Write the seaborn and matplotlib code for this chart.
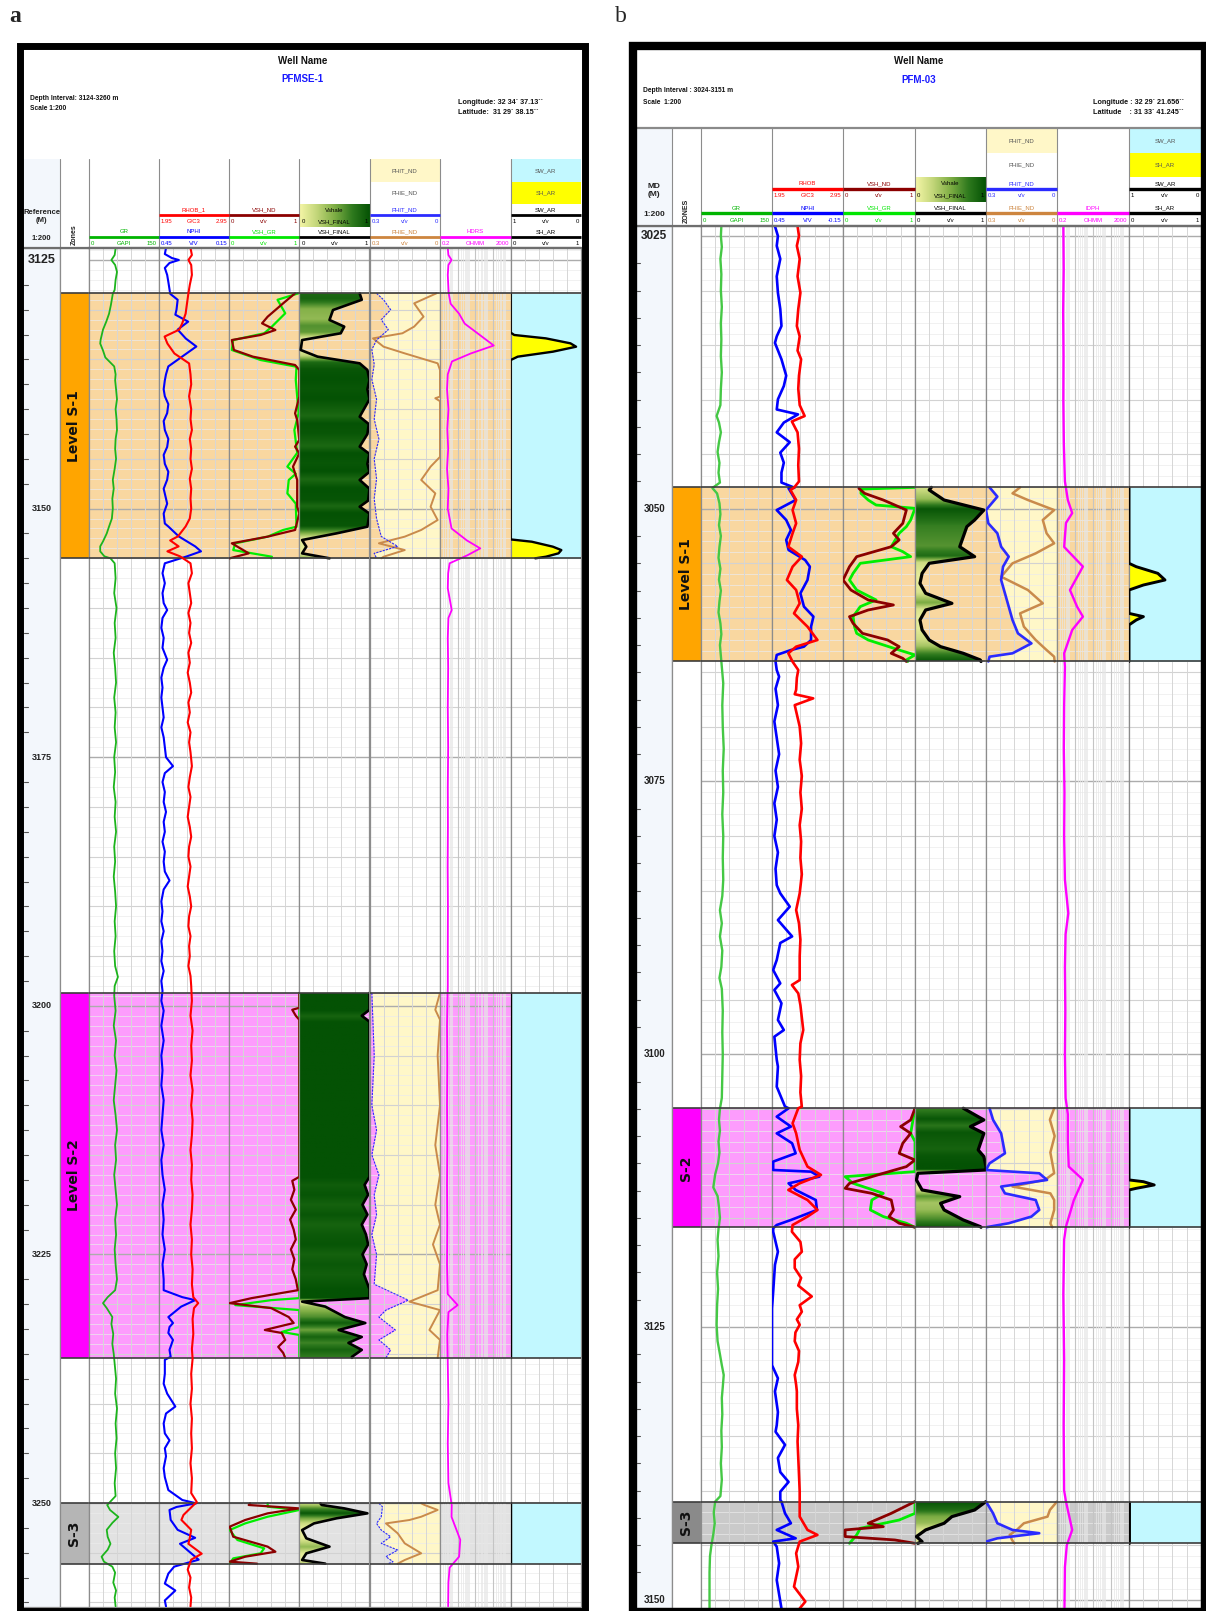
import numpy as np
import matplotlib.pyplot as plt
import seaborn as sns
from matplotlib.colors import LinearSegmentedColormap
from matplotlib.patches import Rectangle

W, H = 1206, 1611

# ---------------- well a : PFMSE-1 ----------------
A_ZONES = ["Level S-1", "Level S-2", "S-3"]
A_ZONE_TOP = [3128.35, 3198.7, 3250.03]
A_ZONE_BASE = [3155.0, 3235.4, 3256.1]

A_GR = [(3123.8,57),(3124.5,55),(3125.0,48),(3125.5,56),(3126.2,60),(3127.0,57),(3128.0,55),(3128.4,51),(3129.5,47),(3130.4,43),
        (3131.2,37),(3132.0,30),(3133.0,25),(3133.4,24),(3134.1,30),(3134.8,35),(3135.7,54),(3136.5,57),(3137.1,56),(3138.0,58),
        (3139.0,60),(3140.0,57),(3141.0,59),(3142.1,60),(3143.0,57),(3144.0,56),(3145.0,58),(3146.0,55),(3147.1,51),(3148.0,53),
        (3149.0,50),(3150.0,51),(3151.0,49),(3151.8,43),(3152.5,38),(3153.3,30),(3153.8,24),(3154.3,24),(3154.8,33),(3155.0,46),
        (3155.5,55),(3157.0,57),(3158.5,54),(3160.0,59),(3161.5,55),(3163.0,57),(3164.5,53),(3166.0,56),(3167.5,58),(3169.0,54),
        (3170.5,57),(3172.0,55),(3173.5,58),(3175.0,54),(3176.5,56),(3178.0,53),(3179.5,57),(3181.0,55),(3182.5,58),(3184.0,54),
        (3185.5,56),(3187.0,53),(3188.5,56),(3190.0,58),(3191.5,55),(3193.0,57),(3194.5,54),(3196.0,56),(3197.1,62),(3198.0,55),
        (3199.0,54),(3200.5,57),(3202.0,53),(3203.5,58),(3205.0,55),(3206.5,59),(3208.0,56),(3209.5,53),(3211.0,57),(3212.5,60),
        (3214.0,56),(3215.5,58),(3217.0,54),(3218.5,57),(3220.0,60),(3221.5,56),(3223.0,58),(3224.5,55),(3226.0,57),(3227.5,60),
        (3228.6,56),(3229.3,40),(3229.9,30),(3230.4,38),(3231.3,50),(3232.0,48),(3233.0,52),(3234.0,50),(3235.0,53),(3236.0,55),
        (3237.5,58),(3239.0,56),(3240.5,60),(3242.0,57),(3243.5,59),(3245.0,56),(3246.5,58),(3248.0,55),(3249.3,57),(3250.2,39),
        (3250.7,45),(3251.4,63),(3252.0,50),(3252.7,38),(3253.4,40),(3254.1,46),(3254.7,40),(3255.4,27),(3255.9,32),(3256.4,50),
        (3257.0,56),(3258.0,52),(3258.8,58),(3259.5,55),(3260.4,57)]

A_NPHI = [(3123.8,.39),(3124.4,.40),(3124.8,.34),(3125.0,.28),(3125.3,.36),(3125.8,.40),(3126.5,.38),(3127.2,.37),(3128.4,.354),
          (3129.0,.29),(3130.0,.30),(3130.5,.31),(3131.2,.20),(3132.0,.29),(3132.9,.22),(3133.7,.13),(3134.7,.25),(3135.7,.37),
          (3136.5,.39),(3137.1,.40),(3138.0,.41),(3138.7,.40),(3139.5,.37),(3140.4,.38),(3141.2,.41),(3142.1,.40),(3143.0,.37),
          (3143.8,.38),(3144.6,.41),(3145.5,.40),(3146.3,.37),(3147.1,.38),(3148.0,.41),(3148.5,.40),(3149.5,.38),(3150.5,.41),
          (3151.5,.40),(3151.8,.37),(3152.8,.28),(3153.8,.14),(3154.3,.09),(3154.8,.21),(3155.5,.40),(3156.5,.42),(3157.5,.40),
          (3158.5,.42),(3159.5,.41),(3160.2,.38),(3161.0,.42),(3162.0,.43),(3163.0,.41),(3164.0,.42),(3165.2,.38),(3166.0,.41),
          (3167.0,.43),(3168.0,.42),(3169.0,.43),(3170.0,.42),(3171.0,.41),(3172.0,.43),(3173.0,.41),(3174.0,.40),(3175.0,.39),
          (3175.9,.33),(3176.6,.40),(3177.5,.42),(3178.5,.40),(3179.5,.41),(3180.5,.39),(3181.5,.41),(3182.5,.40),(3183.5,.42),
          (3184.5,.40),(3185.5,.41),(3186.5,.40),(3187.4,.36),(3188.3,.41),(3189.5,.43),(3190.5,.42),(3191.5,.43),(3192.5,.41),
          (3193.5,.43),(3194.5,.42),(3195.5,.43),(3196.5,.41),(3197.5,.43),(3198.5,.42),(3199.5,.43),(3200.5,.41),(3202.0,.43),
          (3203.5,.41),(3205.0,.43),(3206.5,.42),(3208.0,.43),(3209.5,.41),(3211.0,.42),(3212.5,.43),(3214.0,.41),(3215.5,.43),
          (3217.0,.42),(3218.5,.40),(3220.0,.42),(3221.5,.41),(3223.0,.42),(3224.5,.40),(3226.0,.42),(3227.5,.41),(3228.6,.41),
          (3229.3,.25),(3229.6,.14),(3230.25,.26),(3231.3,.37),(3231.9,.33),(3232.3,.36),(3232.9,.37),(3233.6,.33),(3234.6,.36),
          (3235.3,.35),(3235.6,.40),(3237.0,.40),(3238.0,.41),(3239.0,.38),(3240.3,.31),(3241.0,.39),(3242.0,.41),(3243.0,.40),
          (3243.7,.36),(3244.5,.40),(3245.3,.39),(3246.5,.41),(3247.4,.40),(3248.7,.37),(3249.7,.25),(3250.03,.13),(3250.4,.30),
          (3250.7,.36),(3251.7,.35),(3252.7,.29),(3253.5,.14),(3254.1,.27),(3255.1,.17),(3255.7,.11),(3256.4,.32),(3257.1,.37),
          (3258.1,.40),(3258.8,.31),(3259.8,.40),(3260.4,.39)]

A_RHOB = [(3123.8,2.40),(3124.5,2.42),(3125.0,2.37),(3125.5,2.41),(3126.5,2.42),(3127.5,2.39),(3128.35,2.37),(3130.4,2.33),
          (3131.4,2.28),(3132.0,2.24),(3132.7,2.03),(3133.4,2.07),(3134.4,2.17),(3135.4,2.38),(3136.5,2.40),(3137.5,2.41),
          (3138.7,2.38),(3140.0,2.41),(3141.0,2.40),(3142.1,2.42),(3143.0,2.39),(3144.0,2.41),(3145.0,2.40),(3146.0,2.42),
          (3147.0,2.39),(3148.0,2.41),(3149.0,2.40),(3150.0,2.41),(3151.0,2.39),(3151.8,2.33),(3152.8,2.22),(3153.2,2.11),
          (3153.8,2.23),(3154.3,2.07),(3154.8,2.25),(3155.5,2.40),(3156.5,2.42),(3157.5,2.37),(3158.5,2.39),(3159.5,2.41),
          (3160.5,2.37),(3161.5,2.40),(3162.5,2.38),(3163.5,2.41),(3164.5,2.37),(3165.5,2.39),(3166.5,2.36),(3167.5,2.39),
          (3168.5,2.41),(3169.5,2.37),(3170.5,2.39),(3171.5,2.36),(3172.5,2.40),(3173.5,2.38),(3174.5,2.40),(3175.9,2.42),
          (3177.0,2.39),(3178.0,2.37),(3179.0,2.40),(3180.0,2.38),(3181.0,2.36),(3182.0,2.39),(3183.0,2.41),(3184.0,2.38),
          (3185.0,2.37),(3186.0,2.40),(3187.0,2.38),(3188.0,2.36),(3189.0,2.39),(3190.0,2.41),(3191.0,2.38),(3192.0,2.37),
          (3193.0,2.40),(3194.0,2.38),(3195.0,2.39),(3196.0,2.37),(3197.0,2.40),(3198.0,2.41),(3199.5,2.42),(3201.0,2.40),
          (3202.5,2.43),(3204.0,2.41),(3205.5,2.42),(3207.0,2.40),(3208.5,2.43),(3210.0,2.41),(3211.5,2.43),(3213.0,2.42),
          (3214.5,2.40),(3216.0,2.42),(3217.5,2.41),(3219.0,2.43),(3220.5,2.42),(3222.0,2.40),(3223.5,2.42),(3225.0,2.41),
          (3226.5,2.43),(3228.0,2.42),(3229.3,2.44),(3229.9,2.51),(3230.4,2.45),(3231.5,2.43),(3233.0,2.44),(3234.5,2.42),
          (3235.5,2.43),(3237.0,2.41),(3238.5,2.42),(3240.0,2.40),(3241.5,2.42),(3243.0,2.41),(3244.5,2.42),(3246.0,2.40),
          (3247.5,2.42),(3249.0,2.41),(3249.9,2.49),(3250.3,2.43),(3251.2,2.30),(3251.7,2.27),(3252.7,2.41),(3253.5,2.39),
          (3254.1,2.37),(3255.1,2.56),(3255.7,2.41),(3256.7,2.36),(3257.5,2.40),(3258.5,2.38),(3259.5,2.41),(3260.4,2.40)]

A_RES = [(3123.8,0.55),(3124.5,0.6),(3125.0,0.9),(3125.5,0.6),(3126.5,0.55),(3128.35,0.62),(3129.4,0.8),(3130.4,2.4),
         (3131.4,5.0),(3132.4,28),(3133.6,220),(3134.4,11),(3135.2,0.95),(3136.5,0.55),(3138.0,0.5),(3140.0,0.6),(3142.0,0.52),
         (3144.0,0.58),(3146.0,0.5),(3148.0,0.6),(3150.0,0.55),(3152.0,0.9),(3153.2,6.6),(3154.0,38),(3154.7,7.0),(3155.5,0.7),
         (3156.5,0.58),(3158.0,0.55),(3160.2,0.92),(3161.0,0.6),(3163.0,0.55),(3166.0,0.58),(3170.0,0.55),(3174.0,0.58),
         (3178.0,0.55),(3182.0,0.56),(3186.0,0.54),(3190.0,0.56),(3194.0,0.55),(3198.0,0.55),(3202.0,0.5),(3206.0,0.52),
         (3210.0,0.5),(3214.0,0.52),(3218.0,0.5),(3222.0,0.52),(3226.0,0.5),(3229.0,0.55),(3230.1,2.0),(3230.8,0.6),
         (3233.0,0.52),(3236.0,0.55),(3240.0,0.6),(3244.0,0.55),(3248.0,0.6),(3250.2,0.92),(3251.4,0.9),(3253.7,2.8),
         (3255.4,2.4),(3256.5,0.7),(3258.0,0.6),(3260.4,0.58)]

A_VSH_ND = [
    [(3128.35,.94),(3129.36,.77),(3130.7,.55),(3131.37,.47),(3132.04,.66),(3132.54,.45),(3133.05,.04),(3134.05,.07),(3134.72,.34),
     (3135.56,.94),(3136.06,1.0),(3138.74,1.0),(3140.42,.94),(3141.09,.97),(3143.1,1.0),(3143.77,.94),(3144.44,1.0),(3145.78,.91),
     (3147.12,.97),(3149.81,.97),(3150.48,1.0),(3152.15,.94),(3152.82,.55),(3153.49,.04),(3154.5,.28),(3155.0,.01)],
    [(3198.7,1.0),(3200.2,1.0),(3200.4,.9),(3201.0,.95),(3201.4,1.0),(3217.2,1.0),(3217.6,.9),(3218.5,.93),(3219.5,.88),
     (3220.5,.95),(3221.5,.87),(3222.5,.92),(3223.5,.95),(3224.5,.88),(3225.5,.93),(3226.5,.90),(3227.5,.95),(3228.6,.98),
     (3229.4,.32),(3229.9,.01),(3230.4,.6),(3231.3,.85),(3231.9,.92),(3232.6,.51),(3232.9,.75),(3233.6,.8),(3234.3,.7),
     (3234.9,.77),(3235.4,.8)],
    [(3250.03,.3),(3250.2,.28),(3250.54,1.0),(3251.04,.55),(3251.71,.23),(3252.38,.01),(3253.39,.06),(3254.39,.55),
     (3254.9,.66),(3255.4,.23),(3255.9,.01),(3256.1,.4)]]

A_VSH_GR = [
    [(3128.35,.99),(3129.0,.69),(3130.36,.80),(3131.7,.61),(3132.37,.50),(3133.05,.06),(3134.05,.04),(3135.06,.45),(3135.73,.96),
     (3137.07,.95),(3140.4,.99),(3142.1,.93),(3144.4,.97),(3145.78,.83),(3146.5,.95),(3147.12,.85),(3148.47,.83),(3149.5,.95),
     (3151.82,.96),(3152.15,.77),(3152.82,.55),(3153.49,.09),(3154.17,.06),(3154.84,.61),(3155.0,.6)],
    [(3198.7,1.0),(3229.4,1.0),(3229.6,.6),(3230.1,.09),(3230.6,1.0),(3232.3,1.0),(3232.8,.75),(3233.1,1.0),(3235.4,1.0)],
    [(3250.03,.55),(3250.37,.55),(3250.7,1.0),(3251.38,.55),(3252.05,.23),(3252.72,.01),(3253.72,.12),(3254.56,.5),
     (3255.06,.45),(3255.57,.06),(3256.1,.01)]]

A_VSH_FINAL = [
    [(3128.35,.86),(3129.0,.89),(3130.03,.48),(3131.03,.43),(3131.7,.64),(3132.37,.59),(3133.05,.04),(3134.05,.02),(3134.72,.26),
     (3135.39,.86),(3136.06,.97),(3137.07,1.0),(3138.0,.97),(3139.0,1.0),(3140.76,.86),(3141.5,.99),(3142.5,.97),(3143.77,.86),
     (3144.5,1.0),(3145.5,.97),(3146.3,1.0),(3147.12,.86),(3148.0,1.0),(3149.2,.98),(3149.81,.86),(3150.5,1.0),(3151.82,.97),
     (3152.49,.53),(3153.16,.04),(3153.83,.1),(3154.5,.04),(3155.0,.43)],
    [(3198.7,1.0),(3200.4,1.0),(3201.0,.89),(3201.6,1.0),(3217.2,1.0),(3218.0,.93),(3219.0,.98),(3220.0,.9),(3221.0,.97),
     (3222.0,.89),(3223.0,.95),(3224.0,.98),(3225.0,.9),(3226.0,.96),(3227.0,.92),(3228.5,1.0),(3229.4,1.0),(3229.75,.04),
     (3230.25,.37),(3231.3,.65),(3231.9,.94),(3232.6,.56),(3233.3,.89),(3233.9,.7),(3234.6,.89),(3235.3,.75),(3235.4,.75)],
    [(3250.03,.3),(3250.2,.32),(3250.54,.64),(3251.04,.97),(3251.54,.53),(3252.05,.21),(3252.72,.04),(3253.55,.1),
     (3254.39,.43),(3255.06,.1),(3255.73,.04),(3256.1,.37)]]

A_PHIT = [
    [(3128.35,.27),(3129.0,.24),(3130.0,.21),(3131.0,.25),(3132.0,.22),(3133.05,.27),(3134.0,.29),(3135.5,.28),(3137.0,.29),
     (3139.0,.27),(3141.0,.28),(3143.0,.26),(3145.0,.28),(3147.0,.27),(3149.0,.28),(3151.0,.27),(3152.8,.25),(3153.8,.18),
     (3154.5,.28),(3155.0,.27)],
    [(3198.7,.29),(3205.0,.28),(3210.0,.29),(3212.5,.27),(3215.0,.29),(3217.0,.26),(3219.0,.28),(3221.0,.27),(3223.0,.29),
     (3225.0,.27),(3228.0,.28),(3229.6,.135),(3230.6,.23),(3231.3,.26),(3232.6,.19),(3233.6,.26),(3234.6,.21),(3235.4,.23)],
    [(3250.03,.26),(3250.37,.245),(3251.38,.25),(3252.05,.27),(3252.72,.25),(3253.39,.21),(3254.06,.25),(3254.73,.18),
     (3255.4,.23),(3255.9,.2),(3256.1,.22)]]

A_PHIE = [
    [(3128.35,.015),(3129.36,.11),(3130.7,.07),(3131.7,.11),(3132.37,.16),(3132.88,.285),(3133.72,.24),(3134.39,.15),
     (3135.39,.01),(3136.06,0.0),(3138.74,0.0),(3138.9,.02),(3139.2,0.0),(3144.8,0.0),(3145.78,.04),(3147.12,.08),
     (3148.47,.02),(3149.81,.04),(3151.15,.01),(3152.15,.08),(3152.82,.15),(3153.49,.26),(3154.17,.15),(3154.84,.24),
     (3155.0,.25)],
    [(3198.7,0.0),(3200.4,.02),(3201.4,0.0),(3205.0,.01),(3210.0,0.0),(3214.0,.02),(3217.0,0.0),(3220.0,.02),(3222.0,0.0),
     (3224.0,.03),(3226.0,0.0),(3228.6,.01),(3229.75,.13),(3230.6,0.0),(3232.6,.045),(3233.6,0.0),(3235.4,.01)],
    [(3250.03,.08),(3250.2,.066),(3250.7,.01),(3251.38,.08),(3251.71,.13),(3252.05,.23),(3253.05,.18),(3254.06,.15),
     (3255.06,.08),(3255.73,.15),(3256.1,.18)]]

A_SH = [
    [(3128.35,0),(3132.3,0),(3132.54,.05),(3132.88,.5),(3133.38,.85),(3133.72,.93),(3134.22,.6),(3134.72,.1),(3135.06,0),
     (3153.1,0),(3153.33,.3),(3153.83,.6),(3154.17,.72),(3154.5,.68),(3154.84,.5),(3155.0,.35)],
    [(3198.7,0),(3235.4,0)],
    [(3250.03,0),(3256.1,0)]]

# ---------------- well b : PFM-03 ----------------
B_ZONES = ["Level S-1", "S-2", "S-3"]
B_ZONE_TOP = [3048.04, 3104.95, 3141.0]
B_ZONE_BASE = [3064.0, 3115.86, 3144.83]

B_GR = [(3024.1,43),(3025.0,42),(3026.0,44),(3027.1,41),(3028.5,43),(3030.0,42),(3031.5,44),(3033.0,42),(3034.5,43),(3036.0,42),
        (3037.5,44),(3039.0,42),(3040.5,41),(3041.5,33),(3042.1,38),(3043.0,42),(3043.9,38),(3044.8,35),(3045.8,39),(3046.7,37),
        (3047.6,40),(3048.1,24),(3048.6,34),(3049.5,39),(3050.5,41),(3051.5,38),(3052.5,42),(3053.5,39),(3054.5,37),(3055.5,41),
        (3056.5,38),(3057.5,42),(3058.5,39),(3059.5,37),(3060.5,41),(3061.5,43),(3062.5,40),(3063.5,42),(3064.5,44),(3066.0,47),
        (3068.0,45),(3070.0,46),(3072.0,48),(3074.0,46),(3076.0,47),(3078.0,45),(3080.0,47),(3082.0,46),(3084.0,47),(3085.5,45),
        (3086.8,40),(3088.0,44),(3089.2,40),(3090.5,45),(3092.0,43),(3093.0,39),(3094.0,44),(3096.0,46),(3098.0,45),(3100.0,46),
        (3102.0,45),(3104.0,44),(3105.0,40),(3106.0,38),(3107.0,40),(3108.0,37),(3109.0,39),(3110.0,36),(3111.0,30),(3112.2,26),
        (3113.0,35),(3114.0,38),(3115.0,40),(3116.0,37),(3117.0,35),(3118.5,37),(3120.0,34),(3121.5,36),(3123.0,34),(3124.8,33),
        (3126.3,35),(3127.5,40),(3128.5,44),(3129.4,48),(3130.5,46),(3131.5,44),(3133.0,45),(3134.5,43),(3136.0,44),(3137.5,42),
        (3139.0,44),(3140.5,41),(3141.0,30),(3142.0,27),(3143.0,29),(3144.0,26),(3145.0,22),(3146.0,19),(3147.5,18),(3149.0,18),
        (3150.8,18)]

B_NPHI = [(3024.1,.425),(3025.0,.40),(3025.9,.41),(3027.1,.38),(3028.7,.41),(3030.2,.40),(3031.7,.38),(3033.25,.37),(3034.2,.41),
          (3034.8,.425),(3036.3,.37),(3037.8,.33),(3038.75,.35),(3039.97,.40),(3040.9,.41),(3041.35,.23),(3042.1,.35),(3043.0,.41),
          (3043.9,.30),(3044.86,.38),(3045.78,.35),(3046.69,.37),(3047.6,.37),(3048.07,.26),(3048.13,.31),(3049.2,.25),
          (3050.12,.41),(3051.03,.33),(3051.95,.29),(3052.86,.33),(3053.78,.31),(3054.7,.17),(3055.31,.13),(3056.53,.15),
          (3057.75,.21),(3058.97,.18),(3059.89,.10),(3060.81,.12),(3062.03,.12),(3062.64,.18),(3062.95,.29),(3063.4,.41),
          (3064.0,.42),(3064.78,.41),(3065.39,.39),(3066.5,.42),(3068.0,.40),(3069.5,.43),(3071.0,.41),(3072.5,.39),(3074.0,.42),
          (3075.5,.40),(3077.0,.43),(3078.5,.41),(3080.0,.43),(3081.5,.40),(3083.0,.42),(3084.5,.41),(3085.25,.38),(3086.47,.30),
          (3087.7,.40),(3089.2,.28),(3089.8,.38),(3091.36,.41),(3092.28,.44),(3093.5,.38),(3094.11,.43),(3095.33,.37),
          (3096.86,.40),(3097.78,.35),(3098.39,.43),(3100.5,.41),(3101.14,.40),(3102.97,.41),(3104.8,.34),(3104.95,.31),
          (3105.72,.41),(3106.63,.29),(3107.25,.41),(3108.16,.28),(3109.08,.25),(3109.84,.44),(3110.61,.44),(3110.76,.12),
          (3111.22,.05),(3111.83,.31),(3112.44,.25),(3113.36,.08),(3114.27,.07),(3115.19,.29),(3115.65,.41),(3115.95,.44),
          (3116.26,.44),(3118.1,.40),(3119.3,.425),(3121.76,.44),(3123.3,.45),(3128.5,.45),(3129.7,.40),(3130.9,.425),
          (3132.8,.40),(3134.0,.41),(3134.6,.42),(3135.8,.34),(3137.0,.40),(3138.3,.38),(3139.2,.31),(3140.1,.38),(3140.85,.38),
          (3141.0,.37),(3142.08,.34),(3142.99,.29),(3143.6,.41),(3144.37,.25),(3144.67,.44),(3145.13,.41),(3146.66,.39),
          (3148.19,.41),(3149.5,.39),(3150.8,.37)]

B_RHOB = [(3024.1,2.31),(3025.0,2.33),(3025.9,2.30),(3027.1,2.34),(3028.7,2.31),(3030.2,2.35),(3031.7,2.32),(3033.25,2.30),
          (3034.2,2.34),(3035.5,2.31),(3036.3,2.36),(3037.8,2.33),(3039.0,2.32),(3040.5,2.34),(3041.5,2.41),(3042.0,2.23),
          (3043.0,2.31),(3044.5,2.33),(3046.0,2.32),(3047.5,2.33),(3048.07,2.26),(3048.28,2.21),(3049.2,2.29),(3050.12,2.24),
          (3051.34,2.29),(3052.25,2.24),(3053.48,2.18),(3054.39,2.37),(3055.31,2.24),(3056.53,2.16),(3057.45,2.29),(3058.67,2.34),
          (3059.59,2.26),(3060.81,2.45),(3062.03,2.59),(3062.64,2.29),(3063.25,2.18),(3064.02,2.24),(3064.78,2.32),(3065.5,2.30),
          (3066.6,2.29),(3067.0,2.27),(3067.38,2.53),(3068.0,2.27),(3069.97,2.34),(3071.5,2.36),(3073.0,2.34),(3074.5,2.37),
          (3076.0,2.35),(3077.5,2.37),(3079.0,2.34),(3080.5,2.36),(3082.0,2.35),(3083.5,2.37),(3085.25,2.34),(3086.78,2.29),
          (3088.0,2.33),(3089.5,2.35),(3091.0,2.34),(3093.2,2.34),(3093.65,2.23),(3094.42,2.32),(3095.5,2.35),(3097.78,2.39),
          (3099.0,2.35),(3100.5,2.34),(3102.0,2.36),(3103.5,2.35),(3104.8,2.37),(3104.95,2.32),(3106.33,2.24),(3107.25,2.29),
          (3108.77,2.34),(3110.3,2.45),(3111.06,2.64),(3111.83,2.34),(3112.44,2.18),(3113.36,2.45),(3114.27,2.59),(3114.88,2.45),
          (3115.65,2.24),(3116.26,2.23),(3117.2,2.35),(3118.1,2.37),(3118.8,2.27),(3119.6,2.27),(3120.5,2.36),(3121.2,2.32),
          (3122.2,2.51),(3123.0,2.34),(3123.6,2.37),(3124.3,2.30),(3124.8,2.34),(3125.5,2.28),(3126.3,2.27),(3127.2,2.33),
          (3128.2,2.32),(3129.4,2.27),(3130.3,2.29),(3130.9,2.30),(3132.5,2.30),(3134.0,2.32),(3135.5,2.31),(3137.0,2.32),
          (3138.5,2.33),(3140.1,2.34),(3140.85,2.34),(3142.38,2.34),(3143.6,2.45),(3144.06,2.59),(3144.67,2.34),(3145.74,2.29),
          (3146.96,2.32),(3148.8,2.26),(3150.17,2.42),(3150.8,2.34)]

B_RES = [(3024.1,.45),(3028.0,.47),(3032.0,.44),(3036.0,.46),(3040.0,.45),(3044.0,.48),(3047.5,.55),(3048.1,.63),(3049.2,.8),
         (3050.4,1.4),(3051.3,.63),(3053.5,.5),(3055.3,5.5),(3057.45,1.05),(3058.97,2.6),(3059.89,5.5),(3061.11,1.4),
         (3063.25,.5),(3064.5,.55),(3068.0,.5),(3072.0,.48),(3076.0,.52),(3080.0,.5),(3084.0,.55),(3087.08,.85),(3089.0,.6),
         (3092.0,.55),(3096.0,.58),(3100.0,.55),(3104.0,.6),(3105.5,.8),(3108.0,.8),(3110.3,.9),(3111.5,5.5),(3113.4,1.7),
         (3115.8,.63),(3117.0,.5),(3122.0,.45),(3128.0,.5),(3134.0,.47),(3140.0,.5),(3141.0,.63),(3143.6,1.4),(3145.0,.7),
         (3147.0,.55),(3150.8,.52)]

B_VSH_ND = [
    [(3048.13,.22),(3048.59,.3),(3049.2,.56),(3050.12,.88),(3051.34,.83),(3052.25,.7),(3052.86,.78),(3053.48,.67),(3054.39,.19),
     (3055.31,.09),(3056.53,.0),(3057.45,.11),(3058.36,.35),(3058.82,.7),(3059.28,.35),(3059.89,.09),(3060.5,.14),(3061.42,.27),
     (3062.03,.62),(3062.64,.78),(3063.25,.67),(3063.71,.83),(3064.0,.88)],
    [(3104.95,1.0),(3106.02,.94),(3106.63,.8),(3107.25,.94),(3108.16,.83),(3109.08,.78),(3109.69,1.0),(3110.3,.88),(3110.91,.56),
     (3111.83,.09),(3112.29,.03),(3112.75,.4),(3113.36,.67),(3114.27,.7),(3114.88,.64),(3115.49,.78),(3115.86,1.0)],
    [(3141.0,1.0),(3142.08,.67),(3142.99,.35),(3143.3,.56),(3143.6,.03),(3144.21,.03),(3144.52,.72),(3144.83,1.0)]]

B_VSH_GR = [
    [(3048.04,1.0),(3048.2,.25),(3048.59,.25),(3049.2,.35),(3049.66,.46),(3049.96,1.0),(3051.03,.94),(3051.64,.88),(3052.25,.78),
     (3053.48,.67),(3053.93,.83),(3054.39,.94),(3055.0,.24),(3055.92,.14),(3056.53,.09),(3057.45,.19),(3058.36,.46),
     (3058.97,.24),(3059.89,.14),(3060.81,.16),(3061.42,.19),(3062.03,.35),(3062.95,.78),(3063.4,1.0),(3063.86,.88),(3064.0,.9)],
    [(3104.95,1.0),(3107.25,.94),(3108.0,1.0),(3110.76,1.0),(3111.22,.03),(3111.83,.14),(3112.75,.56),(3113.36,.4),
     (3114.27,.38),(3114.88,.56),(3115.49,.88),(3115.86,1.0)],
    [(3141.0,1.0),(3142.08,1.0),(3142.69,.78),(3143.45,.24),(3144.06,.19),(3144.83,.09)]]

B_VSH_FINAL = [
    [(3048.04,.23),(3048.28,.2),(3049.2,.41),(3050.12,.97),(3051.03,.84),(3051.64,.73),(3052.56,.68),(3053.48,.63),(3054.39,.84),
     (3055.0,.2),(3055.92,.1),(3056.84,.07),(3057.75,.15),(3058.67,.52),(3059.28,.15),(3060.2,.07),(3061.11,.1),(3062.03,.2),
     (3062.64,.36),(3063.25,.68),(3063.86,.92),(3064.0,.93)],
    [(3104.95,.68),(3106.02,.97),(3106.63,.78),(3107.25,.97),(3108.77,.89),(3109.38,.97),(3110.3,1.0),(3110.61,1.0),
     (3110.91,.04),(3111.52,.02),(3112.44,.1),(3113.05,.63),(3113.66,.36),(3114.27,.41),(3115.19,.68),(3115.8,.92),(3115.86,.93)],
    [(3141.0,1.0),(3141.77,.84),(3142.38,.52),(3142.99,.41),(3143.6,.15),(3144.21,.02),(3144.67,.1),(3144.83,.04)]]

B_PHIT = [
    [(3048.04,.285),(3048.89,.252),(3050.12,.30),(3051.34,.29),(3052.25,.252),(3053.48,.236),(3054.39,.204),(3055.31,.228),
     (3056.53,.236),(3057.75,.22),(3058.97,.204),(3060.2,.188),(3061.42,.165),(3062.34,.108),(3063.25,.188),(3063.56,.285),
     (3064.0,.29)],
    [(3104.95,.285),(3106.02,.27),(3107.25,.236),(3108.16,.228),(3109.08,.22),(3110.0,.285),(3110.61,.30),(3110.91,.075),
     (3111.52,.042),(3112.13,.236),(3112.75,.22),(3113.36,.09),(3114.27,.075),(3114.88,.108),(3115.49,.204),(3115.86,.30)],
    [(3141.0,.30),(3142.08,.27),(3142.99,.252),(3143.6,.188),(3143.9,.075),(3144.37,.252),(3144.67,.30),(3144.83,.30)]]

B_PHIE = [
    [(3048.04,.156),(3048.59,.188),(3049.2,.123),(3050.12,.012),(3051.03,.06),(3052.25,.044),(3053.17,.012),(3054.09,.09),
     (3055.0,.188),(3056.23,.236),(3057.45,.123),(3058.67,.06),(3059.59,.156),(3060.81,.14),(3062.03,.09),(3062.95,.044),
     (3063.56,.012),(3064.0,.01)],
    [(3104.95,.012),(3106.0,.03),(3107.5,.01),(3109.0,.028),(3110.9,.012),(3111.5,.05),(3112.13,.188),(3112.75,.028),
     (3113.36,.012),(3114.27,.012),(3115.5,.028),(3115.86,.02)],
    [(3141.0,.0),(3141.77,.03),(3142.38,.04),(3142.99,.14),(3143.6,.17),(3144.06,.2),(3144.52,.19),(3144.83,.18)]]

B_SH = [
    [(3048.04,0),(3055.0,0),(3055.31,.1),(3055.92,.4),(3056.53,.5),(3056.99,.2),(3057.45,0),(3059.59,0),(3059.89,.2),
     (3060.2,.1),(3060.65,0),(3064.0,0)],
    [(3104.95,0),(3111.52,0),(3111.68,.2),(3111.98,.35),(3112.29,.1),(3112.44,0),(3115.86,0)],
    [(3141.0,0),(3144.83,0)]]

# header labels (row 3 on top, row 2 below) and scale texts
A_NAMES = [[None, "GR"], ["RHOB_1", "NPHI"], ["VSH_ND", "VSH_GR"], ["Vshale", "VSH_FINAL"],
           ["PHIT_ND", "PHIE_ND"], [None, "HDRS"], ["SW_AR", "SH_AR"]]
B_NAMES = [[None, "GR"], ["RHOB", "NPHI"], ["VSH_ND", "VSH_GR"], ["Vshale", "VSH_FINAL"],
           ["PHIT_ND", "PHIE_ND"], [None, "IDPH"], ["SW_AR", "SH_AR"]]
A_SCALES = [[None, ("0", "GAPI", "150")], [("1.95", "G/C3", "2.95"), ("0.45", "V/V", "0.15")],
            [("0", "v/v", "1"), ("0", "v/v", "1")], [("0", "VSH_FINAL", "1"), ("0", "v/v", "1")],
            [("0.3", "v/v", "0"), ("0.3", "v/v", "0")], [None, ("0.2", "OHMM", "2000")],
            [("1", "v/v", "0"), ("0", "v/v", "1")]]
B_SCALES = [[None, ("0", "GAPI", "150")], [("1.95", "G/C3", "2.95"), ("0.45", "V/V", "-0.15")],
            [("0", "v/v", "1"), ("0", "v/v", "1")], [("0", "VSH_FINAL", "1"), ("0", "v/v", "1")],
            [("0.3", "v/v", "0"), ("0.3", "v/v", "0")], [None, ("0.2", "OHMM", "2000")],
            [("1", "v/v", "0"), ("0", "v/v", "1")]]

# ---------------- style ----------------
sns.set_style("white")
plt.rcParams["font.family"] = ["Liberation Sans", "DejaVu Sans"]

COL = {"GR": "#00b400", "NPHI": "#0000ff", "RHOB_1": "#ff0000", "RHOB": "#ff0000", "VSH_ND": "#8b0000",
       "VSH_GR": "#00e600", "VSH_FINAL": "#000000", "PHIT_ND": "#2b2bff", "PHIE_ND": "#cd853f",
       "HDRS": "#ff00ff", "IDPH": "#ff00ff", "SW_AR": "#000000", "SH_AR": "#000000", "Vshale": "#000000"}
VSH_CMAP = LinearSegmentedColormap.from_list("vsh", ["#f6f7a8", "#c3d67a", "#7fae45", "#2f7a1e", "#045204"])
CREAM, CYAN = "#fff7c8", "#c2f8ff"

fig = plt.figure(figsize=(W / 100, H / 100), dpi=100)


def px_axes(x0, x1, y0, y1):
    return fig.add_axes([x0 / W, 1 - y1 / H, (x1 - x0) / W, (y1 - y0) / H])


def clean(ax, spine="#8c8c8c"):
    ax.set_xticks([]); ax.set_yticks([])
    ax.set_xticks([], minor=True); ax.set_yticks([], minor=True)
    ax.set_xlabel(""); ax.set_ylabel("")
    for s in ax.spines.values():
        s.set_color(spine); s.set_linewidth(0.9)


def trace(ax, pts, color, lw, ls="-", z=3):
    p = np.asarray(pts, float)
    sns.lineplot(x=p[:, 1], y=p[:, 0], orient="y", sort=False, estimator=None, errorbar=None,
                 color=color, lw=lw, ls=ls, ax=ax, zorder=z)


def depth_grid(ax, d0, d1):
    ds = np.arange(np.ceil(d0), d1, 1.0)
    tr = ax.get_yaxis_transform()
    ax.hlines([d for d in ds if d % 5], 0, 1, transform=tr, color="#ebebeb", lw=0.5, zorder=1)
    ax.hlines([d for d in ds if d % 5 == 0 and d % 25], 0, 1, transform=tr, color="#d2d2d2", lw=0.8, zorder=1)
    ax.hlines([d for d in ds if d % 25 == 0], 0, 1, transform=tr, color="#acacac", lw=1.0, zorder=1)


def lin_grid(ax):
    ax.vlines([0.2, 0.4, 0.6, 0.8], 0, 1, transform=ax.transAxes, color="#d6d6d6", lw=0.7, zorder=1)


def log_grid(ax):
    tr = ax.get_xaxis_transform()
    minor = [m * 10.0 ** k for k in range(-1, 4) for m in range(2, 10) if 0.2 < m * 10.0 ** k < 2000]
    ax.vlines(minor, 0, 1, transform=tr, color="#e6e6e6", lw=0.5, zorder=1)
    ax.vlines([2, 20, 200], 0, 1, transform=tr, color="#c4c4c4", lw=0.8, zorder=1)


def vsh_fill(ax, pts):
    p = np.asarray(pts, float)
    d, v = p[:, 0], p[:, 1]
    poly = ax.fill_betweenx(d, 0, v, color="none", lw=0)
    dd = np.linspace(d[0], d[-1], 500)
    img = np.interp(dd, d, v)[:, None]
    im = ax.imshow(img, cmap=VSH_CMAP, vmin=0, vmax=1, aspect="auto", extent=[0, 1, d[-1], d[0]],
                   interpolation="bilinear", zorder=1.5)
    im.set_clip_path(poly.get_paths()[0], transform=ax.transData)


def draw_panel(P, ov):
    e = P["edges"]
    y0, y1 = P["data_y"]
    dref, yref, ppm = P["ref"]
    dtop, dbot = dref + (y0 - yref) / ppm, dref + (y1 - yref) / ppm
    zspan = list(zip(P["ztop"], P["zbase"]))
    lw = P["lw"]

    # depth column
    axd = px_axes(e[0], e[1], y0, y1)
    axd.set_facecolor("#f3f7fc")
    for d in np.arange(np.ceil(dtop / 2.5) * 2.5, dbot, 2.5):
        if d % 25:
            axd.plot([0, 0.1], [d, d], color="#555555", lw=0.8)
    for k, d in enumerate(np.arange(np.ceil(dtop / 25) * 25, dbot, 25)):
        axd.text(0.5, d, f"{d:.0f}", ha="center", va="center", fontsize=P["dfs"][0] if k == 0 else P["dfs"][1],
                 fontweight="bold", color="#222222")
    axd.set_xlim(0, 1); axd.set_ylim(dbot, dtop)
    clean(axd)
    axd.spines["left"].set_visible(False)

    # zones column
    axz = px_axes(e[1], e[2], y0, y1)
    for (zt, zb), name, c in zip(zspan, P["znames"], P["zcol"]):
        axz.axhspan(zt, zb, color=c, lw=0)
        axz.axhline(zt, color="#3c3c3c", lw=1.2); axz.axhline(zb, color="#3c3c3c", lw=1.2)
        axz.text(0.5, (zt + zb) / 2, name, rotation=90, ha="center", va="center", fontsize=10,
                 fontweight="bold", family="DejaVu Sans", color="#111111")
    axz.set_xlim(0, 1); axz.set_ylim(dbot, dtop)
    clean(axz)

    xl = [(0, 150), (0.45, -0.15), (0, 1), (0, 1), (0.3, 0), (0.2, 2000), (0, 1)]
    for i in range(7):
        ax = px_axes(e[i + 2], e[i + 3], y0, y1)
        if i == 5:
            ax.set_xscale("log")
        ax.set_xlim(*xl[i])
        if i < 6:
            for (zt, zb), c in zip(zspan, P["ztrack"]):
                ax.axhspan(zt, zb, color=c, lw=0, zorder=0)
        depth_grid(ax, dtop, dbot)
        log_grid(ax) if i == 5 else lin_grid(ax)
        if i == 0:
            trace(ax, P["GR"], P["grc"], lw)
        elif i == 1:
            trace(ax, P["NPHI"], "#0000ff", lw + 0.2)
            ax2 = ax.twiny()
            trace(ax2, P["RHOB"], "#ff0000", lw + 0.2)
            ax2.set_xlim(1.95, 2.95)
            clean(ax2)
            for s in ax2.spines.values():
                s.set_visible(False)
        elif i == 2:
            for a, b in zip(P["VSH_GR"], P["VSH_ND"]):
                trace(ax, a, "#00ee00", lw + 0.3)
                trace(ax, b, "#8b0000", lw + 0.3)
        elif i == 3:
            for s in P["VSH_FINAL"]:
                vsh_fill(ax, s)
                trace(ax, s, "#000000", lw + 0.6, z=3.5)
        elif i == 4:
            for s, t in zip(P["PHIT"], P["PHIE"]):
                p = np.asarray(s, float)
                ax.fill_betweenx(p[:, 0], p[:, 1], 0, color=CREAM, lw=0, zorder=0.8)
                trace(ax, t, "#c98a4b", lw + 0.1)
                trace(ax, s, "#2b2bff", P["phit_lw"], ls=P["phit_ls"], z=3.2)
        elif i == 5:
            trace(ax, P["RES"], "#ff00ff", lw)
        else:
            for s in P["SH"]:
                p = np.asarray(s, float)
                ax.fill_betweenx(p[:, 0], p[:, 1], 1, color=CYAN, lw=0, zorder=1.5)
                ax.fill_betweenx(p[:, 0], 0, p[:, 1], color="#ffff00", lw=0, zorder=1.6)
                trace(ax, s, "#000000", lw + 0.4)
        for zt, zb in zspan:
            ax.axhline(zt, color="#3c3c3c", lw=1.2, zorder=5)
            ax.axhline(zb, color="#3c3c3c", lw=1.2, zorder=5)
        ax.set_xlim(*xl[i]); ax.set_ylim(dbot, dtop)
        clean(ax)
        ax.spines["top"].set_color("#6e6e6e"); ax.spines["top"].set_linewidth(1.6)

    # ---------- header ----------
    ht = P["head_top"]
    r = P["rows"]
    ov.add_patch(Rectangle((e[0], ht), e[1] - e[0], y0 - ht, fc="#f3f7fc", ec="none", zorder=1))
    if P["head_line"]:
        ov.plot([e[0], e[-1]], [ht, ht], color="#8a8a8a", lw=1.6, zorder=3)
    for x in e[1:-1]:
        ov.plot([x, x], [ht, y0], color="#8c8c8c", lw=0.8, zorder=3)
    ov.plot([e[0], e[-1]], [y0, y0], color="#6e6e6e", lw=1.6, zorder=3)
    fs = 4.3
    for i, (names, scales) in enumerate(zip(P["names"], P["scales"])):
        x0, x1 = e[i + 2], e[i + 3]
        xc = (x0 + x1) / 2
        if i in (4, 6):
            c1, c2 = (CREAM, "#ffffff") if i == 4 else (CYAN, "#ffff00")
            ov.add_patch(Rectangle((x0 + 0.5, r["b1"][0]), x1 - x0 - 1, r["b1"][1] - r["b1"][0], fc=c1, ec="none", zorder=2))
            ov.add_patch(Rectangle((x0 + 0.5, r["b2"][0]), x1 - x0 - 1, r["b2"][1] - r["b2"][0], fc=c2, ec="none", zorder=2))
            ov.text(xc, sum(r["b1"]) / 2, names[0] if i == 6 else "PHIT_ND", ha="center", va="center", fontsize=fs, color="#555555", zorder=4)
            ov.text(xc, sum(r["b2"]) / 2, names[1] if i == 6 else "PHIE_ND", ha="center", va="center", fontsize=fs, color="#555555", zorder=4)
        for row, name, sc in ((r["r3"], names[0], scales[0]), (r["r2"], names[1], scales[1])):
            if name is None:
                continue
            c = COL[name]
            if name == "Vshale":
                vb = r["vbox"]
                ov.imshow(np.linspace(0, 1, 256)[None, :], cmap=VSH_CMAP, extent=[x0, x1, vb[1], vb[0]],
                          aspect="auto", zorder=2)
            else:
                ov.plot([x0, x1], [row[1], row[1]], color=c, lw=P["hlw"], zorder=3, solid_capstyle="butt")
            ov.text(xc, row[0], name, ha="center", va="center", fontsize=fs, color=c, zorder=4)
            ov.text(x0 + 2, row[2], sc[0], ha="left", va="center", fontsize=fs, color=c, zorder=4)
            ov.text(xc, row[2], sc[1], ha="center", va="center", fontsize=fs, color=c, zorder=4)
            ov.text(x1 - 2, row[2], sc[2], ha="right", va="center", fontsize=fs, color=c, zorder=4)
    xd = (e[0] + e[1]) / 2
    for txt, yy, f in P["dhead"]:
        ov.text(xd, yy, txt, ha="center", va="center", fontsize=f, fontweight="bold", color="#222222", zorder=4)
    ov.text((e[1] + e[2]) / 2, y0 - 3, P["zhead"], rotation=90, ha="center", va="bottom", fontsize=5,
            fontweight="bold", color="#222222", zorder=4)

    # title block
    xm = (e[0] + e[-1]) / 2
    t = P["title"]
    ov.text(xm, t["y"][0], "Well Name", ha="center", va="center", fontsize=7, fontweight="bold", color="#111111")
    ov.text(xm, t["y"][1], t["well"], ha="center", va="center", fontsize=7, fontweight="bold", color="#1a1aff")
    ov.text(e[0] + 6, t["y"][2], t["interval"], ha="left", va="center", fontsize=4.8, fontweight="bold", color="#111111")
    ov.text(e[0] + 6, t["y"][3], t["scale"], ha="left", va="center", fontsize=4.8, fontweight="bold", color="#111111")
    ov.text(t["xl"], t["y"][4], t["lon"], ha="left", va="center", fontsize=5.2, fontweight="bold", color="#111111")
    ov.text(t["xl"], t["y"][5], t["lat"], ha="left", va="center", fontsize=5.2, fontweight="bold", color="#111111")

    fx = P["frame"]
    ov.add_patch(Rectangle((fx[0], fx[1]), fx[2] - fx[0], fx[3] - fx[1], fill=False, ec="#000000", lw=P["flw"], zorder=6))


PANEL_A = dict(edges=[24, 59.5, 89, 159, 229, 299.3, 369.5, 440, 510.7, 581], data_y=(248, 1606.7), ref=(3125, 260, 9.944),
               ztop=A_ZONE_TOP, zbase=A_ZONE_BASE, znames=A_ZONES,
               zcol=["#ffa500", "#ff00ff", "#b5b5b5"], ztrack=["#f9d7a0", "#fd9cfd", "#e2e2e2"],
               GR=A_GR, NPHI=A_NPHI, RHOB=A_RHOB, RES=A_RES, VSH_ND=A_VSH_ND, VSH_GR=A_VSH_GR, VSH_FINAL=A_VSH_FINAL,
               PHIT=A_PHIT, PHIE=A_PHIE, SH=A_SH, names=A_NAMES, scales=A_SCALES, lw=1.3, grc="#1cb41c",
               phit_lw=0.8, phit_ls=(0, (2, 1)), dfs=(9, 6.5), head_top=159, head_line=False, hlw=2.0,
               rows=dict(b1=(159, 182), b2=(182, 204), r3=(210, 214.5, 221.5), r2=(231.5, 237, 243.5), vbox=(204, 227)),
               dhead=[("Reference", 212, 5.5), ("(M)", 220, 5.5), ("1:200", 239, 5.5)], zhead="Zones",
               title=dict(y=[61, 79, 98, 109, 103, 112], well="PFMSE-1", interval="Depth Interval: 3124-3260 m",
                          scale="Scale 1:200", lon="Longitude: 32 34` 37.13``", lat="Latitude:  31 29` 38.15``", xl=458),
               frame=(20, 45.5, 584.6, 1611), flw=5.0)

PANEL_B = dict(edges=[637, 671.6, 701, 772, 843, 915, 986, 1057, 1129, 1201], data_y=(226, 1607.7), ref=(3025, 236, 10.91),
               ztop=B_ZONE_TOP, zbase=B_ZONE_BASE, znames=B_ZONES,
               zcol=["#ffa500", "#ff00ff", "#8a8a8a"], ztrack=["#f9d7a0", "#fd9cfd", "#cacaca"],
               GR=B_GR, NPHI=B_NPHI, RHOB=B_RHOB, RES=B_RES, VSH_ND=B_VSH_ND, VSH_GR=B_VSH_GR, VSH_FINAL=B_VSH_FINAL,
               PHIT=B_PHIT, PHIE=B_PHIE, SH=B_SH, names=B_NAMES, scales=B_SCALES, lw=1.7, grc="#45c845",
               phit_lw=1.9, phit_ls="-", dfs=(8.5, 7), head_top=128, head_line=True, hlw=2.4,
               rows=dict(b1=(128, 153), b2=(153, 177), r3=(183.5, 189, 195.5), r2=(208, 213, 220), vbox=(177, 202)),
               dhead=[("MD", 186, 6), ("(M)", 195, 6), ("1:200", 215, 6)], zhead="ZONES",
               title=dict(y=[61, 80, 91, 103, 102, 113], well="PFM-03", interval="Depth Interval : 3024-3151 m",
                          scale="Scale  1:200", lon="Longitude : 32 29` 21.656``", lat="Latitude    : 31 33` 41.245``", xl=1093),
               frame=(633, 46, 1204.5, 1612), flw=6.0)

ov = fig.add_axes([0, 0, 1, 1])
ov.set_zorder(10)
ov.patch.set_visible(False)
ov.axis("off")

draw_panel(PANEL_A, ov)
draw_panel(PANEL_B, ov)

ov.text(15.5, 16, "a", ha="center", va="center", fontsize=17, fontweight="bold", family="Liberation Serif")
ov.text(621, 16, "b", ha="center", va="center", fontsize=17, family="Liberation Serif")
ov.set_xlim(0, W)
ov.set_ylim(H, 0)

fig.savefig("out.png", dpi=100)
